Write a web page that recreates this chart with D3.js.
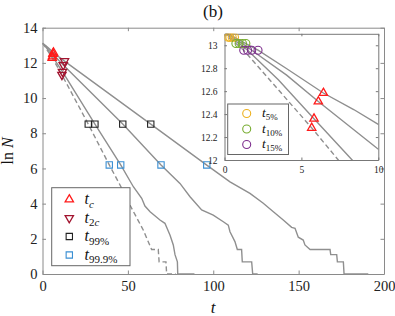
<!DOCTYPE html>
<html>
<head>
<meta charset="utf-8">
<script src="https://cdn.jsdelivr.net/npm/d3@7"></script>
<style>
  body { margin: 0; background: #fff; }
  svg { display: block; }
</style>
</head>
<body>
<script>
const w = 395;
const h = 316;
const SERIF = "'Liberation Serif', 'DejaVu Serif', serif";

// curves as [t, lnN]
const curveA = [[0,13.12],[0.65,13.07],[1.39,13.015],[2.18,12.957],[4,12.8],[6.43,12.584],[8.4,12.44],[10,12.31],[12.88,12.1],[63.4,8.52],[96.2,6.19],[109.8,5.24],[121.5,4.58],[129.3,4.02],[135.2,3.54],[141,3.07],[145.9,2.65],[147.9,2.6],[149.8,2.09],[152.7,1.93],[153.7,1.65],[156.7,1.39],[168.4,1.39],[168.8,1.1],[172.3,1.1],[172.7,0.69],[176.2,0.69],[176.6,0],[190.8,0]];
const curveB = [[0,13.12],[0.5,13.07],[1.17,13.015],[1.77,12.957],[4.04,12.74],[6.1,12.51],[9.9,12.105],[12.16,11.88],[47.0,8.52],[69.4,6.2],[80.5,5.15],[86.4,4.39],[93.2,3.64],[100,3.35],[105.9,2.97],[108.8,2.78],[109.8,2.4],[112.7,1.84],[114.1,1.39],[116.6,1.39],[117,0.69],[122.5,0.69],[123.1,0],[126,0]];
const curveC = [[0,13.12],[0.35,13.07],[0.95,13.015],[1.5,12.957],[3.5,12.7],[5.82,12.36],[8.3,12.0],[11.68,11.5],[30.7,8.52],[45.8,6.2],[53.2,4.96],[58.1,4.3],[60.0,3.86],[63,3.54],[68.8,3.07],[71.7,2.88],[74.7,2.2],[76.6,1.65],[77.6,1.1],[79.0,0.69],[79.2,0],[89,0]];
const curveD = [[0,13.12],[0.25,13.07],[0.74,13.015],[1.25,12.957],[5.67,12.28],[7.4,12.0],[11.38,11.32],[26.8,8.52],[39.1,6.2],[45.4,5.06],[51.2,3.92],[59.0,2.5],[63.9,1.39],[67.8,1.39],[68.3,0.69],[72.3,0.69],[72.7,0],[78,0]];

// markers
const tc   = [[6.43,12.584],[6.1,12.51],[5.82,12.36],[5.67,12.28]];
const t2c  = [[12.88,12.1],[12.16,11.88],[11.68,11.5],[11.38,11.32]];
const t99  = [[63.4,8.52],[47.0,8.52],[30.7,8.52],[26.8,8.52]];
const t999 = [[96.2,6.2],[69.4,6.2],[45.8,6.2],[39.1,6.2]];
const t5   = [[0.65,13.07],[0.5,13.07],[0.35,13.07],[0.25,13.07]];
const t10  = [[1.39,13.015],[1.17,13.015],[0.95,13.015],[0.74,13.015]];
const t15  = [[2.18,12.957],[1.77,12.957],[1.5,12.957],[1.25,12.957]];

const xTicks = [0, 50, 100, 150, 200];
const yTicks = [0, 2, 4, 6, 8, 10, 12, 14];
const insetXTicks = [0, 5, 10];
const insetYTicks = [12, 12.2, 12.4, 12.6, 12.8, 13];

const RED = "#ff1a1a", DARKRED = "#a2142f", BLACK = "#222", BLUE = "#3a8fd3";
const YELLOW = "#edb120", GREEN = "#77ac30", PURPLE = "#7e2f8e";
const LINE = "#8f8f8f";

const svg = d3.select("body").append("svg").attr("width", w).attr("height", h);

const x = d3.scaleLinear().domain([0, 200]).range([42.5, 384]);
const y = d3.scaleLinear().domain([0, 14]).range([274, 27.7]);

function styleAxis(g, color, size) {
  g.select(".domain").attr("stroke", color).attr("stroke-width", 1);
  g.selectAll(".tick line").attr("stroke", color);
  g.selectAll(".tick text")
    .attr("fill", "#222")
    .style("font-family", SERIF)
    .style("font-size", size + "px");
}

// main axes
svg.append("g").attr("transform", "translate(0,274)")
  .call(d3.axisBottom(x).tickValues(xTicks).tickSize(-3.5).tickSizeOuter(0).tickPadding(7))
  .call(g => styleAxis(g, "#8a8a8a", 14.5));
svg.append("g").attr("transform", "translate(0,27.7)")
  .call(d3.axisTop(x).tickValues(xTicks).tickSize(-3.5).tickSizeOuter(0).tickFormat(""))
  .call(g => styleAxis(g, "#8a8a8a", 14.5));
svg.append("g").attr("transform", "translate(42.5,0)")
  .call(d3.axisLeft(y).tickValues(yTicks).tickSize(-3.5).tickSizeOuter(0).tickPadding(5))
  .call(g => styleAxis(g, "#8a8a8a", 14.5));
svg.append("g").attr("transform", "translate(384,0)")
  .call(d3.axisRight(y).tickValues(yTicks).tickSize(-3.5).tickSizeOuter(0).tickFormat(""))
  .call(g => styleAxis(g, "#8a8a8a", 14.5));

// labels
svg.append("text").attr("x", 213).attr("y", 16.5).attr("text-anchor", "middle")
  .style("font-family", SERIF).style("font-size", "17px").attr("fill", "#111").text("(b)");
svg.append("text").attr("x", 213).attr("y", 313).attr("text-anchor", "middle")
  .style("font-family", SERIF).style("font-size", "17px").style("font-style", "italic")
  .attr("fill", "#111").text("t");
const yl = svg.append("text").attr("transform", "translate(13,151) rotate(-90)")
  .attr("text-anchor", "middle").style("font-family", SERIF).style("font-size", "16px").attr("fill", "#111");
yl.append("tspan").text("ln ");
yl.append("tspan").style("font-style", "italic").text("N");

// clip for main plot
svg.append("clipPath").attr("id", "clipMain").append("rect")
  .attr("x", 42.5).attr("y", 27.7).attr("width", 341.5).attr("height", 247.3);

const line = d3.line().x(d => x(d[0])).y(d => y(d[1]));
const curves = [
  { data: curveA, dash: null },
  { data: curveB, dash: null },
  { data: curveC, dash: null },
  { data: curveD, dash: "5,3" }
];
svg.append("g").attr("clip-path", "url(#clipMain)")
  .selectAll("path").data(curves).enter().append("path")
  .attr("d", d => line(d.data))
  .attr("fill", "none").attr("stroke", LINE).attr("stroke-width", 1.4)
  .attr("stroke-dasharray", d => d.dash);

const tri = d3.symbol().type(d3.symbolTriangle).size(30);
const sq = d3.symbol().type(d3.symbolSquare).size(40);

function drawMarkers(g, data, sx, sy, kind, color) {
  if (kind === "circle") {
    g.selectAll(null).data(data).enter().append("circle")
      .attr("cx", d => sx(d[0])).attr("cy", d => sy(d[1])).attr("r", 4)
      .attr("fill", "none").attr("stroke", color).attr("stroke-width", 1.1);
    return;
  }
  const sym = kind === "square" ? sq : tri;
  g.selectAll(null).data(data).enter().append("path")
    .attr("d", sym)
    .attr("transform", d => "translate(" + sx(d[0]) + "," + sy(d[1]) + ")" + (kind === "down" ? " rotate(180)" : ""))
    .attr("fill", "none").attr("stroke", color).attr("stroke-width", kind === "square" ? 1.1 : 1.3);
}

const mk = svg.append("g");
drawMarkers(mk, tc, x, y, "up", RED);
drawMarkers(mk, t2c, x, y, "down", DARKRED);
drawMarkers(mk, t99, x, y, "square", BLACK);
drawMarkers(mk, t999, x, y, "square", BLUE);

// main legend
const legendItems = [
  { kind: "up", color: RED, sub: [["c", true]] },
  { kind: "down", color: DARKRED, sub: [["2", false], ["c", true]] },
  { kind: "square", color: BLACK, sub: [["99%", false]] },
  { kind: "square", color: BLUE, sub: [["99.9%", false]] }
];
const leg = svg.append("g");
leg.append("rect").attr("x", 51.7).attr("y", 187.7).attr("width", 78.3).attr("height", 78)
  .attr("fill", "#fff").attr("stroke", "#666").attr("stroke-width", 1);
legendItems.forEach((it, i) => {
  const cy = 199.5 + i * 18.5;
  const s = it.kind === "square" ? sq : tri;
  leg.append("path").attr("d", s)
    .attr("transform", "translate(69.3," + cy + ")" + (it.kind === "down" ? " rotate(180)" : ""))
    .attr("fill", "none").attr("stroke", it.color).attr("stroke-width", it.kind === "square" ? 1.1 : 1.3);
  const t = leg.append("text").attr("x", 84.5).attr("y", cy + 4.5)
    .style("font-family", SERIF).style("font-size", "16px").attr("fill", "#111");
  t.append("tspan").style("font-style", "italic").text("t");
  it.sub.forEach((s, j) => {
    const ts = t.append("tspan").style("font-size", "11px").style("font-style", s[1] ? "italic" : "normal").text(s[0]);
    if (j === 0) ts.attr("dy", 3.5);
  });
});

// inset
const ix = d3.scaleLinear().domain([0, 10]).range([224.5, 378.3]);
const iy = d3.scaleLinear().domain([12, 13.1]).range([160, 33.8]);
const inset = svg.append("g");
inset.append("rect").attr("x", 224.5).attr("y", 33.8).attr("width", 153.8).attr("height", 126.2).attr("fill", "#fff");
svg.append("clipPath").attr("id", "clipInset").append("rect")
  .attr("x", 224.5).attr("y", 33.8).attr("width", 153.8).attr("height", 126.2);

const iline = d3.line().x(d => ix(d[0])).y(d => iy(d[1]));
inset.append("g").attr("clip-path", "url(#clipInset)")
  .selectAll("path").data(curves).enter().append("path")
  .attr("d", d => iline(d.data))
  .attr("fill", "none").attr("stroke", LINE).attr("stroke-width", 1.4)
  .attr("stroke-dasharray", d => d.dash);

inset.append("g").attr("transform", "translate(0,160)")
  .call(d3.axisBottom(ix).tickValues(insetXTicks).tickSize(-2.5).tickSizeOuter(0).tickPadding(6))
  .call(g => styleAxis(g, "#777", 9.5));
inset.append("g").attr("transform", "translate(0,33.8)")
  .call(d3.axisTop(ix).tickValues(insetXTicks).tickSize(-2.5).tickSizeOuter(0).tickFormat(""))
  .call(g => styleAxis(g, "#777", 9.5));
inset.append("g").attr("transform", "translate(224.5,0)")
  .call(d3.axisLeft(iy).tickValues(insetYTicks).tickSize(-2.5).tickSizeOuter(0).tickPadding(7).tickFormat(d3.format("~g")))
  .call(g => styleAxis(g, "#777", 9.5));
inset.append("g").attr("transform", "translate(378.3,0)")
  .call(d3.axisRight(iy).tickValues(insetYTicks).tickSize(-2.5).tickSizeOuter(0).tickFormat(""))
  .call(g => styleAxis(g, "#777", 9.5));

const imk = inset.append("g").attr("clip-path", "url(#clipInset)");
drawMarkers(imk, tc, ix, iy, "up", RED);
drawMarkers(imk, t5, ix, iy, "circle", YELLOW);
drawMarkers(imk, t10, ix, iy, "circle", GREEN);
drawMarkers(imk, t15, ix, iy, "circle", PURPLE);

// inset legend
const ilegItems = [
  { color: YELLOW, sub: "5%" },
  { color: GREEN, sub: "10%" },
  { color: PURPLE, sub: "15%" }
];
const ileg = inset.append("g");
ileg.append("rect").attr("x", 227.7).attr("y", 104).attr("width", 60.8).attr("height", 50.5)
  .attr("fill", "#fff").attr("stroke", "#666").attr("stroke-width", 1);
ilegItems.forEach((it, i) => {
  const cy = 113.5 + i * 15.5;
  ileg.append("circle").attr("cx", 246.7).attr("cy", cy).attr("r", 4)
    .attr("fill", "none").attr("stroke", it.color).attr("stroke-width", 1.1);
  const t = ileg.append("text").attr("x", 262).attr("y", cy + 3.5)
    .style("font-family", SERIF).style("font-size", "13.5px").attr("fill", "#111");
  t.append("tspan").style("font-style", "italic").text("t");
  t.append("tspan").attr("dy", 3).style("font-size", "9px").text(it.sub);
});
</script>
</body>
</html>
